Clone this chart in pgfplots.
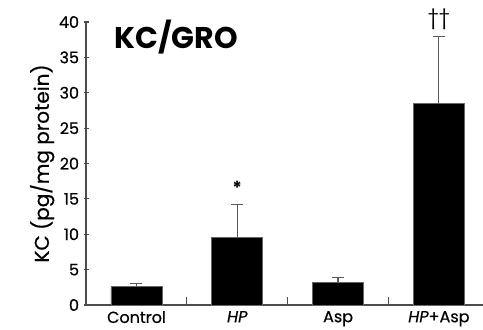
\documentclass[border=0pt]{standalone}
\usepackage{pgfplots}
\pgfplotsset{compat=1.18}
\usepackage{fontspec}
\setmainfont{Poppins}
\newfontfamily\medfont[FakeBold=0.6]{Poppins}
\begin{document}
\begin{tikzpicture}
\begin{axis}[
  at={(0,0)}, anchor=south west,
  scale only axis,
  width=201.6pt, height=141.5pt,
  xmin=-0.5, xmax=3.5, ymin=0, ymax=40,
  axis lines=left,
  axis line style={-, draw=black!70, line width=0.6pt},
  clip=false,
  ybar, bar width=25.5pt, bar shift=0pt,
  xtick={0,1,2,3},
  xticklabels={Control,\textit{HP},Asp,\textit{HP}+Asp},
  major x tick style={draw=none},
  minor xtick={0.5,1.5,2.5},
  minor tick length=4pt,
  tick align=inside,
  major tick length=2.5pt,
  ytick={0,5,...,40},
  ytick style={xshift=-0.8pt, draw=black!70, line width=0.6pt},
  minor x tick style={draw=black!70, line width=0.6pt},
  tick label style={font=\medfont\fontsize{8}{9}\selectfont},
  /pgf/number format/assume math mode=true,
  xticklabel style={yshift=0.5pt},
  ylabel={KC (pg/mg protein)},
  ylabel style={at={(axis description cs:-0.109,0.5)}, anchor=center, font=\medfont\fontsize{10}{11}\selectfont},
]
\addplot[fill=black, draw=black!60, line width=0.4pt,
  error bars/.cd, y dir=plus, y explicit,
  error bar style={draw=black!65, line width=0.6pt},
  error mark options={rotate=90, mark size=3pt, draw=black!65, line width=0.6pt}]
  coordinates {
  (0,2.6) +- (0,0.4)
  (1,9.6) +- (0,4.6)
  (2,3.2) +- (0,0.7)
  (3,28.5) +- (0,9.5)
};
\node[font=\fontsize{9}{10}\selectfont\bfseries] at (axis cs:1,16.6) {*};
\node[font=\fontsize{10}{11}\selectfont] at (axis cs:3,40.4) {††};
\node[font=\fontsize{15}{17}\selectfont\bfseries, anchor=west] at (axis cs:-0.29,37.9) {KC/GRO};
\end{axis}
\pgfresetboundingbox
\path (-43.05pt,-12pt) rectangle (198.45pt,152.5pt);
\end{tikzpicture}
\end{document}
